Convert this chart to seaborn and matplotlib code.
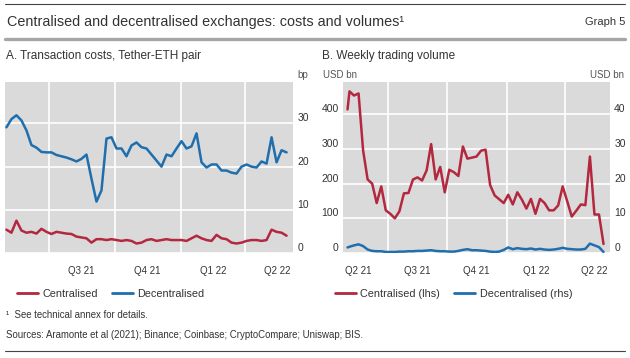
import matplotlib
matplotlib.use("Agg")
import matplotlib.pyplot as plt
import matplotlib.dates as mdates
import matplotlib.transforms as mtransforms
from matplotlib.lines import Line2D
import pandas as pd
import seaborn as sns

# ---- data ----
# A: weekly transaction costs, bp
dates_a = pd.date_range("2021-05-02", periods=57, freq="7D")
cost_central = [5.4, 4.7, 7.5, 5.2, 4.7, 4.9, 4.5, 5.6, 4.9, 4.4,
                4.9, 4.7, 4.5, 4.4, 3.8, 3.6, 3.4, 2.4, 3.2, 3.2,
                3.0, 3.2, 3.0, 2.8, 3.0, 2.8, 2.2, 2.4, 3.0, 3.2,
                2.8, 3.0, 3.2, 3.0, 3.0, 3.0, 2.8, 3.4, 4.0, 3.4,
                3.0, 2.8, 4.2, 3.4, 3.2, 2.4, 2.2, 2.4, 2.8, 3.0,
                3.0, 2.8, 3.0, 5.4, 4.9, 4.7, 4.0]
cost_decentral = [29.1, 31.0, 31.9, 30.7, 28.4, 25.0, 24.4, 23.4, 23.3, 23.3,
                  22.7, 22.4, 22.1, 21.7, 21.2, 21.8, 22.8, 17.2, 11.9, 14.5,
                  26.5, 26.8, 24.2, 24.2, 22.4, 24.9, 25.6, 24.5, 24.2, 22.8,
                  21.4, 20.0, 22.8, 22.4, 24.2, 25.9, 24.2, 24.7, 27.7, 21.0,
                  19.8, 20.5, 20.5, 19.1, 19.1, 18.6, 18.4, 20.0, 20.5, 20.0,
                  19.8, 21.2, 20.7, 26.8, 21.0, 23.8, 23.3]

# B: weekly trading volume, USD bn
dates_b = pd.DatetimeIndex(["2021-04-30"]).append(
    pd.date_range("2021-05-03", periods=57, freq="7D"))
vol_central = [414, 466, 454, 460, 296, 212, 200, 144, 192, 123,
               113, 100, 120, 172, 173, 212, 218, 209, 238, 314,
               212, 248, 175, 240, 233, 222, 307, 272, 275, 278,
               295, 298, 196, 166, 155, 144, 168, 140, 175, 154,
               128, 156, 113, 156, 144, 123, 123, 137, 192, 149,
               105, 122, 140, 138, 278, 111, 111, 26]
vol_decentral = [1.6, 1.8, 2.2, 2.5, 2.0, 1.0, 0.6, 0.5, 0.5, 0.3,
                 0.3, 0.3, 0.4, 0.4, 0.5, 0.5, 0.6, 0.6, 0.7, 0.8,
                 0.6, 0.5, 0.5, 0.4, 0.4, 0.6, 0.9, 1.1, 0.8, 0.8,
                 0.7, 0.6, 0.4, 0.3, 0.4, 0.9, 1.6, 1.1, 1.4, 1.2,
                 1.1, 1.3, 1.0, 1.2, 1.0, 0.9, 1.0, 1.2, 1.5, 1.2,
                 1.1, 1.0, 1.0, 1.2, 2.7, 2.2, 1.7, 0.3]

quarter_starts = ["2021-07-01", "2021-10-01", "2022-01-01", "2022-04-01"]
labels_a = ["Q3 21", "Q4 21", "Q1 22", "Q2 22"]
mids_a = ["2021-08-15", "2021-11-15", "2022-02-15", "2022-05-16"]
labels_b = ["Q2 21", "Q3 21", "Q4 21", "Q1 22", "Q2 22"]
mids_b = ["2021-05-16", "2021-08-15", "2021-11-15", "2022-02-15", "2022-05-16"]

RED = "#b3283f"
BLUE = "#1f6fae"
BG = "#dadada"
TXT = "#333333"

sns.set_style("white")
plt.rcParams["font.family"] = ["Liberation Sans", "DejaVu Sans"]

W, H = 630, 358
fig = plt.figure(figsize=(W / 100, H / 100), dpi=100)


def box(l, t, r, b):
    return [l / W, 1 - b / H, (r - l) / W, (b - t) / H]


def px(x, y):
    return x / W, 1 - y / H


axA = fig.add_axes(box(5, 82, 293, 253))
axB = fig.add_axes(box(343, 82, 610, 253))
axB2 = axB.twinx()

sns.lineplot(x=dates_a, y=cost_central, ax=axA, color=RED, lw=1.8)
sns.lineplot(x=dates_a, y=cost_decentral, ax=axA, color=BLUE, lw=1.8)
sns.lineplot(x=dates_b, y=vol_central, ax=axB, color=RED, lw=1.8)
sns.lineplot(x=dates_b, y=vol_decentral, ax=axB2, color=BLUE, lw=1.8)

axA.set_xlim(pd.Timestamp("2021-04-30"), pd.Timestamp("2022-06-07"))
axB.set_xlim(pd.Timestamp("2021-04-23"), pd.Timestamp("2022-06-09"))
axA.set_ylim(0, 39.6)
axB.set_ylim(0, 493)
axB2.set_ylim(0, 49.3)

for ax, labels, mids in ((axA, labels_a, mids_a), (axB, labels_b, mids_b)):
    ax.set_facecolor(BG)
    for s in ax.spines.values():
        s.set_visible(False)
    ax.set_xticks(pd.to_datetime(quarter_starts))
    ax.xaxis.set_minor_locator(mdates.MonthLocator())
    ax.set_xticklabels([])
    ax.tick_params(axis="x", which="major", length=10, width=0.8, color="#555555")
    ax.tick_params(axis="x", which="minor", length=5, width=0.8, color="#555555")
    ax.grid(True, axis="both", which="major", color="white", lw=1.2)
    ax.set_axisbelow(True)
    ax.set_xlabel("")
    ax.set_ylabel("")
    trans = mtransforms.blended_transform_factory(ax.transData, ax.transAxes)
    for lab, m in zip(labels, mids):
        ax.text(pd.Timestamp(m), -0.105, lab, transform=trans, ha="center",
                va="center", fontsize=7, color=TXT)

for s in axB2.spines.values():
    s.set_visible(False)
axB2.set_ylabel("")

axA.set_yticks([0, 10, 20, 30])
axA.yaxis.tick_right()
axA.tick_params(axis="y", length=0, pad=3, labelsize=7.5, labelcolor=TXT)
axB.set_yticks([0, 100, 200, 300, 400])
axB.tick_params(axis="y", length=0, pad=3, labelsize=7.5, labelcolor=TXT)
axB2.set_yticks([0, 10, 20, 30, 40])
axB2.tick_params(axis="y", length=0, pad=3, labelsize=7.5, labelcolor=TXT)
for ax in (axA, axB, axB2):
    for lab in ax.get_yticklabels():
        lab.set_verticalalignment("bottom")

# titles, units, rules
fig.add_artist(Line2D([5 / W, 625 / W], [1 - 4 / H] * 2, color="#444444", lw=0.8))
fig.add_artist(Line2D([5 / W, 625 / W], [1 - 39 / H] * 2, color="#a6a6a6", lw=2.4))
fig.add_artist(Line2D([5 / W, 625 / W], [1 - 351 / H] * 2, color="#444444", lw=0.8))

fig.text(*px(7, 22), "Centralised and decentralised exchanges: costs and volumes\u00b9",
         fontsize=10.4, color=TXT, va="center", ha="left")
fig.text(*px(625, 22), "Graph 5", fontsize=8, color=TXT, va="center", ha="right")
fig.text(*px(6, 56), "A. Transaction costs, Tether-ETH pair", fontsize=8.5,
         color=TXT, va="center")
fig.text(*px(322, 56), "B. Weekly trading volume", fontsize=8.5, color=TXT, va="center")
fig.text(*px(308, 75), "bp", fontsize=7, color="#555555", va="center", ha="right")
fig.text(*px(323, 75), "USD bn", fontsize=7, color="#555555", va="center", ha="left")
fig.text(*px(624, 75), "USD bn", fontsize=7, color="#555555", va="center", ha="right")

legend_kw = dict(frameon=False, ncol=2, fontsize=7.8, handlelength=1.9,
                 handletextpad=0.45, columnspacing=1.3, borderpad=0,
                 borderaxespad=0, loc="center left", labelcolor=TXT)
fig.legend([Line2D([], [], color=RED, lw=2), Line2D([], [], color=BLUE, lw=2)],
           ["Centralised", "Decentralised"],
           bbox_to_anchor=px(17, 294), **legend_kw)
fig.legend([Line2D([], [], color=RED, lw=2), Line2D([], [], color=BLUE, lw=2)],
           ["Centralised (lhs)", "Decentralised (rhs)"],
           bbox_to_anchor=px(335, 294), **legend_kw)

fig.text(*px(6, 315), "\u00b9  See technical annex for details.", fontsize=6.9,
         color=TXT, va="center")
fig.text(*px(6, 335), "Sources: Aramonte et al (2021); Binance; Coinbase; "
         "CryptoCompare; Uniswap; BIS.", fontsize=6.9, color=TXT, va="center")

fig.savefig("out.png", dpi=100)
